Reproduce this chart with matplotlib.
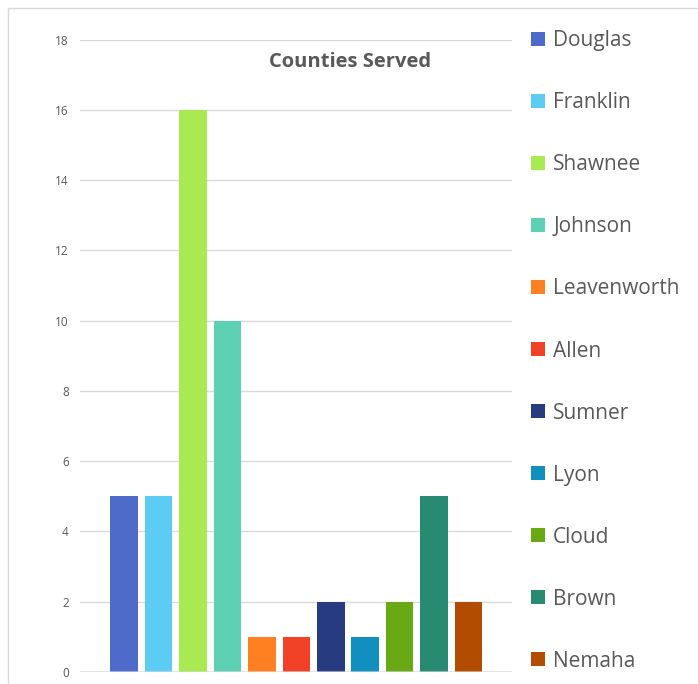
import matplotlib.pyplot as plt
from matplotlib.patches import Rectangle, Patch

# ── Data ────────────────────────────────────────────────────────────────
counties = ['Douglas', 'Franklin', 'Shawnee', 'Johnson', 'Leavenworth', 'Allen',
            'Sumner', 'Lyon', 'Cloud', 'Brown', 'Nemaha']
served = [5, 5, 16, 10, 1, 1, 2, 1, 2, 5, 2]
colours = ['#4F6BC9', '#5DCCF3', '#A9EA52', '#5ED0B4', '#FF8021', '#F04126',
           '#273B80', '#118FBE', '#6AA916', '#288A70', '#B14C00']
yticks = [0, 2, 4, 6, 8, 10, 12, 14, 16, 18]

plt.rcParams['font.family'] = ['Open Sans', 'DejaVu Sans']
grey = '#595959'

fig = plt.figure(figsize=(6.98, 6.84), dpi=100)
W, H = 698, 684

# outer chart border
fig.patches.append(Rectangle((8 / W, -0.01), 1.0, 1.01 - 8 / H, transform=fig.transFigure,
                             fill=False, edgecolor='#D9D9D9', lw=1))

ax = fig.add_axes([80 / W, (H - 672) / H, (512 - 80) / W, (672 - 39.5) / H])
x = range(len(counties))
ax.bar(x, served, width=0.8, color=colours, zorder=2)
ax.axhline(0, color='#D9D9D9', lw=1.5, alpha=0.6, zorder=3)

ax.set_ylim(0, 18)
ax.set_xlim(-1.28, 11.26)
ax.set_yticks(yticks)
ax.set_xticks([])
ax.grid(axis='y', color='#D9D9D9', lw=1, zorder=0)
for s in ax.spines.values():
    s.set_visible(False)
ax.tick_params(axis='y', length=0, labelsize=8.5, labelcolor=grey, pad=8)

ax.text(350 / W, 1 - 62 / H, 'Counties Served', transform=fig.transFigure,
        ha='center', va='center', fontsize=14.5, fontweight='bold', color=grey)

handles = [Patch(facecolor=c, edgecolor='none') for c in colours]
fig.legend(handles, counties, loc='upper left', bbox_to_anchor=(523 / W, 1 - 22 / H),
           frameon=False, fontsize=15, labelcolor=grey, handlelength=0.65,
           handleheight=0.65, handletextpad=0.4, labelspacing=1.97, borderaxespad=0)

fig.savefig('out.png', dpi=100)
